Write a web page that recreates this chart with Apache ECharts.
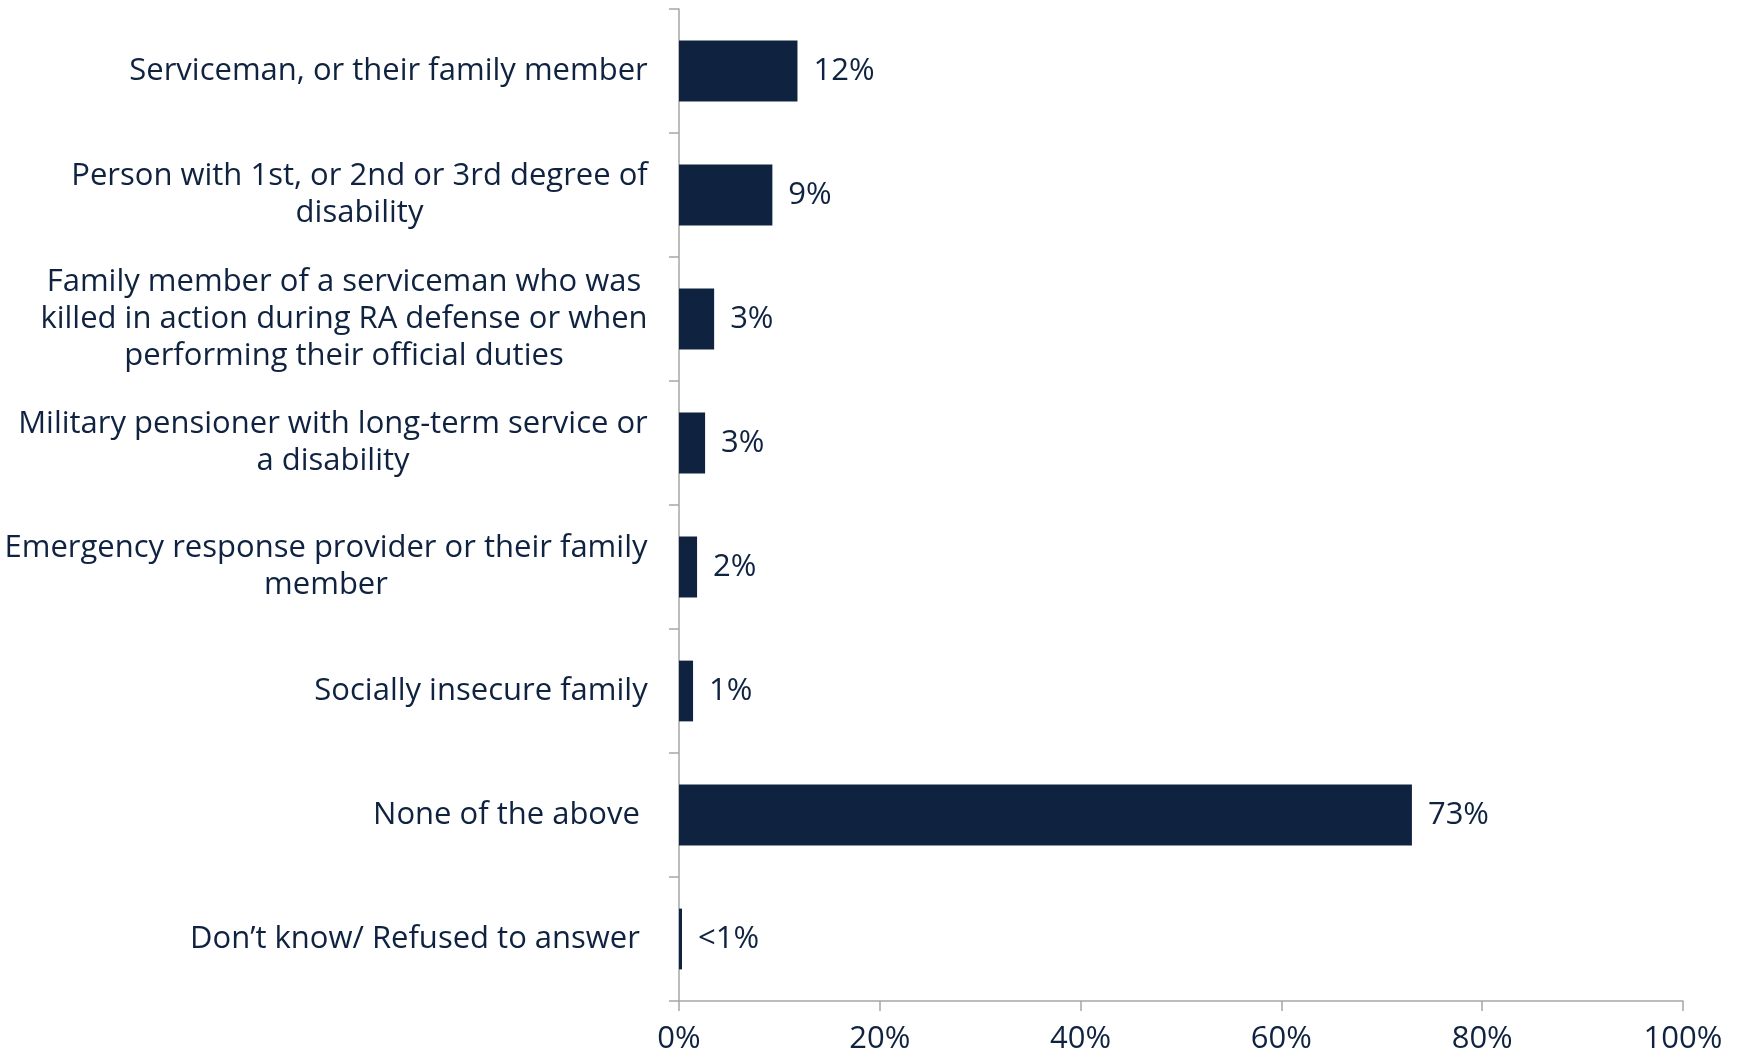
<!DOCTYPE html>
<html><head><meta charset="utf-8">
<script src="https://cdn.jsdelivr.net/npm/echarts@6/dist/echarts.min.js"></script>
<style>html,body{margin:0;padding:0;background:#fff}#c{width:1737px;height:1055px}</style>
</head><body><div id="c"></div>
<script>
const categories = [
  ["Serviceman, or their family member"],
  ["Person with 1st, or 2nd or 3rd degree of", "disability"],
  ["Family member of a serviceman who was", "killed in action during RA defense or when", "performing their official duties"],
  ["Military pensioner with long-term service or", "a disability"],
  ["Emergency response provider or their family", "member"],
  ["Socially insecure family"],
  ["None of the above "],
  ["Don\u2019t know/ Refused to answer "]
];
const values = [11.8, 9.3, 3.5, 2.6, 1.8, 1.4, 73.0, 0.3];
const valueLabels = ["12%", "9%", "3%", "3%", "2%", "1%", "73%", "<1%"];
const xTicks = [0, 20, 40, 60, 80, 100];

const FONT = "Open Sans";
const FS = 31;
const TXT = "#0F2341";
const BAR = "#0F2341";
const AX = "#A6A6A6";

const cv = document.createElement('canvas').getContext('2d');
cv.font = FS + "px '" + FONT + "'";
const rich = {};
categories.forEach((lines, i) => {
  const w = Math.max(...lines.map(l => cv.measureText(l).width));
  rich['c' + i] = {width: Math.ceil(w) + 2, align: 'center', fontSize: FS, fontFamily: FONT, color: TXT, lineHeight: 37};
});
const catNames = categories.map((l, i) => 'k' + i);

const chart = echarts.init(document.getElementById('c'));
chart.setOption({
  animation: false,
  grid: {left: 678, right: 54, top: 9, bottom: 54, containLabel: false},
  xAxis: {
    type: 'value', min: 0, max: 100, interval: 20,
    axisLine: {show: true, lineStyle: {color: AX, width: 1.5}},
    axisTick: {show: true, length: 10, lineStyle: {color: AX, width: 1.5}},
    splitLine: {show: false},
    axisLabel: {formatter: v => xTicks.includes(v) ? v + '%' : '', fontSize: FS, fontFamily: FONT, color: TXT, margin: 23}
  },
  yAxis: {
    type: 'category', inverse: true, data: catNames,
    axisLine: {show: true, lineStyle: {color: AX, width: 1.5}},
    axisTick: {show: true, length: 10, lineStyle: {color: AX, width: 1.5}},
    axisLabel: {
      margin: 30, align: 'right',
      formatter: (v, i) => categories[i].map(l => '{c' + i + '|' + l + '}').join('\n'),
      rich: rich
    }
  },
  series: [{
    type: 'bar', data: values, barWidth: '49%',
    itemStyle: {color: BAR},
    label: {show: true, position: 'right', distance: 16, formatter: p => valueLabels[p.dataIndex],
      fontSize: FS, fontFamily: FONT, color: TXT}
  }]
});
</script></body></html>
